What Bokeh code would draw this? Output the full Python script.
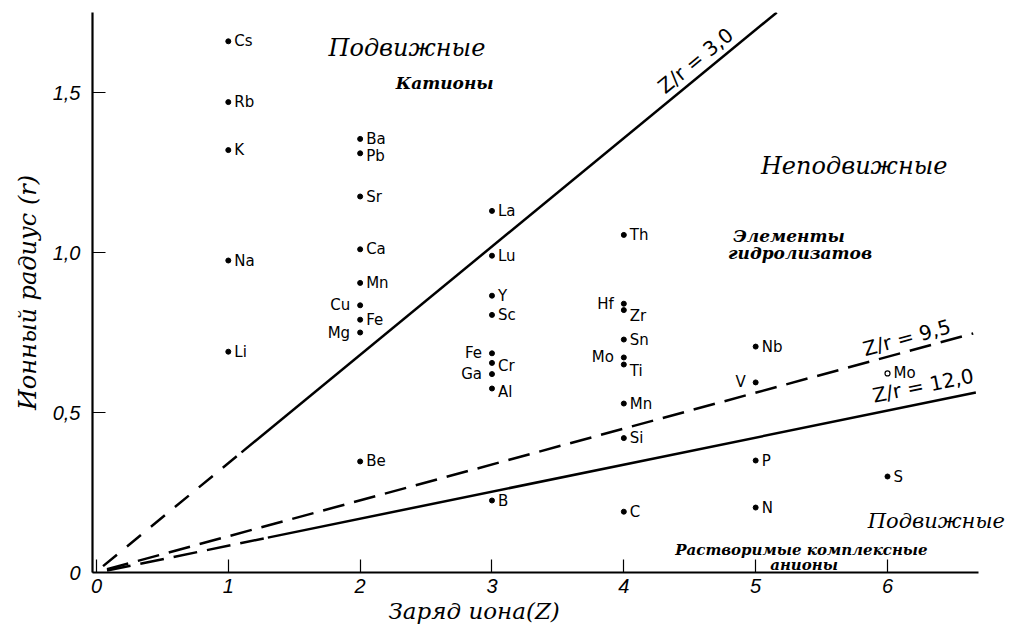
from bokeh.plotting import figure
from bokeh.models import ColumnDataSource, Label, FixedTicker, Range1d, Title
from bokeh.core.properties import value
from bokeh.embed import file_html
from bokeh.resources import INLINE

# ---------------- data ----------------
elements = ["Cs", "Rb", "K", "Na", "Li",
            "Ba", "Pb", "Sr", "Ca", "Mn", "Cu", "Fe", "Mg", "Be",
            "La", "Lu", "Y", "Sc", "Fe", "Cr", "Ga", "Al", "B",
            "Th", "Hf", "Zr", "Sn", "Mo", "Ti", "Mn", "Si", "C",
            "Nb", "V", "P", "N",
            "Mo", "S"]
charge = [1, 1, 1, 1, 1,
          2, 2, 2, 2, 2, 2, 2, 2, 2,
          3, 3, 3, 3, 3, 3, 3, 3, 3,
          4, 4, 4, 4, 4, 4, 4, 4, 4,
          5, 5, 5, 5,
          6, 6]
radius = [1.66, 1.47, 1.32, 0.975, 0.69,
          1.355, 1.31, 1.175, 1.01, 0.905, 0.835, 0.79, 0.75, 0.347,
          1.13, 0.99, 0.865, 0.805, 0.685, 0.655, 0.62, 0.575, 0.225,
          1.055, 0.84, 0.82, 0.728, 0.672, 0.65, 0.528, 0.42, 0.19,
          0.706, 0.594, 0.35, 0.203,
          0.622, 0.30]

line_labels = ["Z/r = 3,0", "Z/r = 9,5", "Z/r = 12,0"]
line_z_start = [0.05, 0.08, 0.08]
line_r_start = [0.02, 0.01, 0.006]
line_z_end = [5.16, 6.65, 6.67]
line_r_end = [1.75, 0.747, 0.5625]
line_z_dash_end = [1.1, 6.65, 1.3]

x_ticks = [0, 1, 2, 3, 4, 5, 6]
y_ticks = [0, 0.5, 1.0, 1.5]
y_tick_labels = ["0", "0,5", "1,0", "1,5"]

# ---------------- styles ----------------
LEFT = {(2, "Cu"), (2, "Mg"), (3, "Fe"), (3, "Ga"), (4, "Hf"), (4, "Mo"), (5, "V")}
DOWN = {(4, "Zr"): 6, (4, "Ti"): 6, (2, "Pb"): 3, (3, "Cr"): 3, (3, "Al"): 3}
OPEN = {(6, "Mo")}

p = figure(width=1012, height=630,
           x_range=Range1d(-0.03, 6.948), y_range=Range1d(0, 1.75),
           output_backend="svg", toolbar_location=None,
           min_border_left=92, min_border_right=0,
           min_border_top=12, min_border_bottom=58)
p.outline_line_color = None
p.grid.visible = False
p.background_fill_color = "white"
p.border_fill_color = "white"

for ax in (p.xaxis[0], p.yaxis[0]):
    ax.axis_line_width = 2.2
    ax.axis_line_color = "black"
    ax.major_tick_in = 13
    ax.major_tick_out = 0
    ax.major_tick_line_width = 1.2
    ax.minor_tick_line_color = None
    ax.major_label_text_font = "Liberation Sans"
    ax.major_label_text_font_style = "italic"
    ax.major_label_text_font_size = "20px"
    ax.major_label_text_color = "black"

p.xaxis.ticker = FixedTicker(ticks=x_ticks)
p.xaxis.bounds = (-0.03, 6.69)
p.xaxis.major_label_standoff = 6

p.yaxis.ticker = FixedTicker(ticks=y_ticks)
p.yaxis.major_label_overrides = {t: s for t, s in zip(y_ticks, y_tick_labels)}
p.yaxis.major_label_standoff = 12
p.yaxis.axis_label = "Ионный радиус (r)"
p.yaxis.axis_label_text_font = "DejaVu Serif"
p.yaxis.axis_label_text_font_style = "italic"
p.yaxis.axis_label_text_color = "black"
p.yaxis.axis_label_text_font_size = "24px"
p.yaxis.axis_label_standoff = 8

# x-axis caption, placed under the axis (left aligned at the reference offset)
p.add_layout(Title(text="Заряд иона(Z)", align="left", offset=296, standoff=0,
                   text_font="DejaVu Serif", text_font_style="italic",
                   text_font_size="23px", text_color="black"), "below")

# ---------------- ratio lines ----------------
dashes = ["18 13", "22 10", "24 10"]
for i in range(3):
    z0, r0, z1, r1 = line_z_start[i], line_r_start[i], line_z_end[i], line_r_end[i]
    zd = line_z_dash_end[i]
    rd = r0 + (r1 - r0) * (zd - z0) / (z1 - z0)
    p.line([z0, zd], [r0, rd], line_color="black", line_width=2.5, line_dash=dashes[i])
    if zd < z1:
        p.line([zd, z1], [rd, r1], line_color="black", line_width=2.5)

# ---------------- points ----------------
filled = [k for k in range(len(elements)) if (charge[k], elements[k]) not in OPEN]
opened = [k for k in range(len(elements)) if (charge[k], elements[k]) in OPEN]
src_f = ColumnDataSource(dict(z=[charge[k] for k in filled], r=[radius[k] for k in filled]))
src_o = ColumnDataSource(dict(z=[charge[k] for k in opened], r=[radius[k] for k in opened]))
p.scatter("z", "r", source=src_f, size=5, color="black")
p.scatter("z", "r", source=src_o, size=5, fill_color="white", line_color="black", line_width=1.2)

for side in ("left", "right"):
    idx = [k for k in range(len(elements))
           if ((charge[k], elements[k]) in LEFT) == (side == "left")]
    src = ColumnDataSource(dict(
        z=[charge[k] for k in idx], r=[radius[k] for k in idx],
        t=[elements[k] for k in idx],
        dy=[DOWN.get((charge[k], elements[k]), 0) for k in idx]))
    p.text("z", "r", text="t", source=src,
           x_offset=(-10 if side == "left" else 6), y_offset="dy",
           text_align=("right" if side == "left" else "left"),
           text_baseline="middle", text_font=value("DejaVu Sans"),
           text_font_size="15px", text_color="black")

# ---------------- annotations ----------------
def lab(x, y, text, size, style="italic", font="DejaVu Serif", align="left", angle=0):
    p.add_layout(Label(x=x, y=y, text=text, text_font=font, text_font_style=style,
                       text_font_size=size, text_align=align, text_baseline="middle",
                       angle=angle, angle_units="deg", text_color="black"))

lab(1.76, 1.64, "Подвижные", "24px")
lab(2.27, 1.53, "Катионы", "17px", style="bold italic")
lab(5.04, 1.27, "Неподвижные", "24px")
lab(4.83, 1.053, "Элементы", "17px", style="bold italic")
lab(4.79, 1.0, "гидролизатов", "17px", style="bold italic")
lab(5.85, 0.1625, "Подвижные", "21px")
lab(4.39, 0.069, "Растворимые комплексные", "15px", style="bold italic")
lab(5.11, 0.022, "анионы", "15px", style="bold italic")

lab(4.545, 1.60, line_labels[0], "20px", style="normal", font="DejaVu Sans", align="center", angle=39.4)
lab(6.146, 0.734, line_labels[1], "20px", style="normal", font="DejaVu Sans", align="center", angle=15.2)
lab(6.27, 0.584, line_labels[2], "20px", style="normal", font="DejaVu Sans", align="center", angle=11.4)

open("out.html", "w").write(file_html(p, INLINE))
